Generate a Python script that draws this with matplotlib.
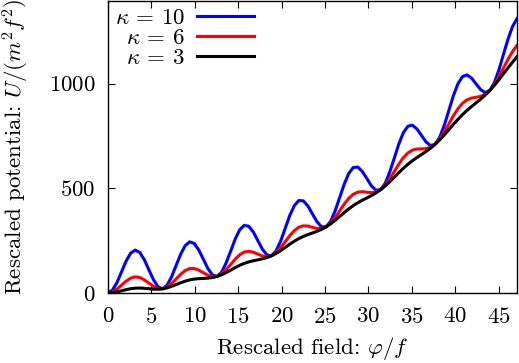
import matplotlib
matplotlib.use("Agg")
import matplotlib.pyplot as plt

plt.rcParams['font.family'] = 'cmr10'
plt.rcParams['mathtext.fontset'] = 'cm'
plt.rcParams['axes.formatter.use_mathtext'] = True
plt.rcParams['font.size'] = 16.5

# rescaled field phi/f (step ~0.52)
phi = [0.00, 0.52, 1.05, 1.57, 2.09, 2.62, 3.14, 3.67, 4.19, 4.71, 5.24, 5.76,
       6.28, 6.81, 7.33, 7.85, 8.38, 8.90, 9.42, 9.95, 10.47, 11.00, 11.52, 12.04,
       12.57, 13.09, 13.61, 14.14, 14.66, 15.18, 15.71, 16.23, 16.76, 17.28, 17.80, 18.33,
       18.85, 19.37, 19.90, 20.42, 20.94, 21.47, 21.99, 22.51, 23.04, 23.56, 24.09, 24.61,
       25.13, 25.66, 26.18, 26.70, 27.23, 27.75, 28.27, 28.80, 29.32, 29.85, 30.37, 30.89,
       31.42, 31.94, 32.46, 32.99, 33.51, 34.03, 34.56, 35.08, 35.60, 36.13, 36.65, 37.18,
       37.70, 38.22, 38.75, 39.27, 39.79, 40.32, 40.84, 41.36, 41.89, 42.41, 42.94, 43.46,
       43.98, 44.51, 45.03, 45.55, 46.08, 46.60, 47.12]

# rescaled potential U/(m^2 f^2)
u_k10 = [0.0, 13.5, 50.5, 101.2, 152.2, 190.0, 204.9, 193.3, 158.8, 111.1, 63.7, 30.0,
         19.7, 36.6, 76.9, 130.8, 185.1, 226.2, 244.4, 236.1, 204.8, 160.5, 116.3, 85.9,
         79.0, 99.1, 142.7, 199.9, 257.5, 301.9, 323.4, 318.3, 290.4, 249.3, 208.5, 181.3,
         177.7, 201.1, 247.9, 308.5, 369.3, 417.0, 441.8, 440.1, 415.4, 377.6, 340.1, 316.2,
         315.8, 342.5, 392.7, 456.5, 520.7, 571.7, 599.7, 601.3, 579.9, 545.4, 511.1, 490.6,
         493.5, 523.5, 576.9, 644.1, 711.5, 765.8, 797.1, 801.9, 783.8, 752.6, 721.7, 704.4,
         710.6, 743.9, 800.6, 871.1, 941.8, 999.3, 1034.0, 1042.1, 1027.3, 999.4, 971.7, 957.7,
         967.2, 1003.8, 1063.8, 1137.5, 1211.5, 1272.4, 1310.3]
u_k6 = [0.0, 5.0, 18.5, 37.2, 56.2, 70.6, 76.9, 73.9, 62.8, 47.1, 31.7, 21.4,
        19.7, 28.0, 44.9, 66.8, 89.1, 106.8, 116.4, 116.7, 108.8, 96.5, 84.3, 77.3,
        79.0, 90.5, 110.7, 135.9, 161.5, 182.5, 195.4, 198.9, 194.4, 185.3, 176.5, 172.7,
        177.7, 192.5, 215.9, 244.5, 273.3, 297.6, 313.8, 320.6, 319.4, 313.6, 308.1, 307.6,
        315.8, 333.9, 360.7, 392.5, 424.7, 452.2, 471.7, 481.8, 483.9, 481.4, 479.1, 482.0,
        493.5, 514.9, 544.9, 580.1, 615.5, 646.3, 669.1, 682.5, 687.8, 688.6, 689.7, 695.8,
        710.6, 735.3, 768.6, 807.1, 845.8, 879.9, 906.0, 922.7, 931.3, 935.4, 939.7, 949.2,
        967.2, 995.2, 1031.8, 1073.5, 1115.5, 1153.0, 1182.3]
u_k3 = [0.0, 1.3, 5.0, 10.2, 15.7, 20.2, 22.9, 23.5, 22.3, 20.1, 18.2, 17.8,
        19.7, 24.4, 31.4, 39.8, 48.6, 56.4, 62.4, 66.3, 68.3, 69.5, 70.8, 73.7,
        79.0, 86.9, 97.2, 108.9, 121.0, 132.1, 141.4, 148.5, 153.9, 158.3, 163.0, 169.1,
        177.7, 188.9, 202.4, 217.5, 232.8, 247.2, 259.8, 270.2, 278.9, 286.6, 294.6, 304.0,
        315.8, 330.3, 347.2, 365.5, 384.2, 401.8, 417.7, 431.5, 443.4, 454.4, 465.6, 478.4,
        493.5, 511.3, 531.4, 553.1, 575.0, 595.9, 615.1, 632.1, 647.3, 661.6, 676.2, 692.2,
        710.6, 731.7, 755.1, 780.1, 805.3, 829.5, 852.0, 872.3, 890.8, 908.4, 926.2, 945.5,
        967.2, 991.6, 1018.3, 1046.5, 1075.0, 1102.6, 1128.3]

series = [(u_k10, '#0000ff', r'$\kappa$ = 10'),
          (u_k6, '#ff0000', r'$\kappa$ = 6'),
          (u_k3, '#000000', r'$\kappa$ = 3')]

fig = plt.figure(figsize=(5.19, 3.63), dpi=100)
ax = fig.add_axes([0.208, 0.193, 0.788, 0.804])

for u, col, lab in series:
    ax.plot(phi, u, color=col, lw=2.2, label=lab)

ax.set_xlim(0, 47.12)
ax.set_ylim(0, 1395)
ax.set_xticks(range(0, 46, 5))
ax.set_yticks([0, 500, 1000])
ax.tick_params(direction='in', top=True, right=True, length=5, width=0.8)
ax.tick_params(axis='x', pad=10)
ax.tick_params(axis='y', pad=9)
for sp in ax.spines.values():
    sp.set_linewidth(1.0)

ax.set_xlabel(r'Rescaled field: $\varphi/f$', labelpad=6)
ax.set_ylabel(r'Rescaled potential: $U/(m^2 f^2)$', labelpad=13)

ax.legend(loc='upper left', markerfirst=False, frameon=False, handlelength=2.5,
          labelspacing=0.0, borderaxespad=0.05, handletextpad=0.5,
          borderpad=0.25)

fig.savefig('out.png', dpi=100)
